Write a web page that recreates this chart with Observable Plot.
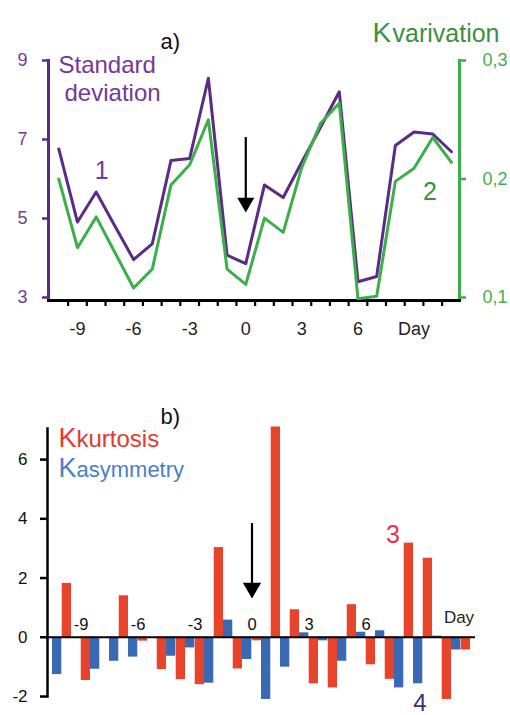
<!DOCTYPE html>
<html><head><meta charset="utf-8">
<script src="https://cdn.jsdelivr.net/npm/d3@7"></script>
<script src="https://cdn.jsdelivr.net/npm/@observablehq/plot@0.6"></script>
<style>
html,body{margin:0;padding:0;background:#fff;}
#chart{width:510px;height:715px;overflow:hidden;}
#chart svg{display:block;}
</style></head><body><div id="chart"></div>
<script>
// ---------- data ----------
const days = [-10,-9,-8,-7,-6,-5,-4,-3,-2,-1,0,1,2,3,4,5,6,7,8,9,10,11];
// panel a
const stdDev = [6.76,4.91,5.67,4.81,3.96,4.36,6.47,6.52,8.55,4.07,3.86,5.85,5.53,6.43,7.31,8.21,3.40,3.53,6.85,7.19,7.14,6.69];
const kVar   = [0.200,0.142,0.168,0.138,0.108,0.124,0.195,0.212,0.250,0.124,0.111,0.167,0.155,0.210,0.247,0.264,0.099,0.101,0.198,0.209,0.235,0.214];
// panel b
const asymmetry = [-1.26,0,-1.08,-0.81,-0.67,0,-0.64,-0.36,-1.55,0.58,-0.75,-2.10,-1.01,0.15,-0.12,-0.81,0.17,0.22,-1.71,-1.57,0.04,-0.43];
const kurtosis  = [1.82,-1.46,0,1.40,-0.13,-1.09,-1.43,-1.60,3.03,-1.07,-0.12,7.10,0.93,-1.57,-1.71,1.10,-0.93,-1.42,3.18,2.67,-2.10,-0.43];
// ticks / labels
const stdTicks = [3,5,7,9];
const kvarTicks = [0.1,0.2,0.3];
const aTickDays = [-9,-6,-3,0,3,6,9];
const aTickLabels = ["-9","-6","-3","0","3","6","Day"];
const bTickDays = [-9,-6,-3,0,3,6];
const bTickLabels = ["-9","-6","-3","0","3","6"];
const bDayLabel = [{day:11, label:"Day"}];
const bYTicks = [-2,0,2,4,6];
const arrowA = [{day:0, top:7.05, tip:5.15}];
const arrowB = [{day:0, top:3.84, tip:1.31}];
const labelsA = [{label:"1", day:-7.7, value:6.0}, {label:"2", day:9.85, value:5.48}];
const labelsB = [{label:"3", day:8, value:3.17}, {label:"4", day:9, value:-2.5}];

// ---------- style ----------
const FONT = "'Liberation Sans', Arial, sans-serif";
const PURPLE = "#5b2b85", PURPLE_TXT = "#74399a";
const GREEN = "#3cae4a", GREEN_TXT = "#47ad50", GREEN_DARK = "#3d8f42";
const RED = "#e8432b", RED_TXT = "#e23a30", PINK = "#e4344f";
const BLUE = "#3a69b3", BLUE_TXT = "#4a80c2", INDIGO = "#3b2f80";

const toStd = k => 3 + (k - 0.1) * 30;
const fromStd = v => (v - 3) / 30 + 0.1;
const halfDays = days.slice(0, -1).map(d => d + 0.5);

const rowsA = days.map((d, i) => ({day: d, std: stdDev[i], kvar: kVar[i]}));
const rowsB = days.map((d, i) => ({day: d, asym: asymmetry[i], kurt: kurtosis[i]}));

// ---------- panel a ----------
const plotA = Plot.plot({
  width: 510, height: 340,
  marginLeft: 48, marginRight: 51, marginTop: 60, marginBottom: 40,
  x: {domain: [-10.55, 11.43], axis: null},
  y: {domain: [2.924, 9], axis: null},
  style: {fontFamily: FONT, background: "white", overflow: "visible"},
  marks: [
    Plot.frame({anchor: "left", stroke: PURPLE, strokeWidth: 3}),
    Plot.frame({anchor: "right", stroke: GREEN, strokeWidth: 3}),
    Plot.axisY({anchor: "left", ticks: stdTicks, tickSize: 6, tickPadding: 15, tickFormat: d => String(d),
      stroke: PURPLE, fill: PURPLE_TXT, fontSize: 18, strokeWidth: 2.5, label: null}),
    Plot.axisY({anchor: "right", ticks: kvarTicks.map(toStd), tickSize: 6, tickPadding: 17,
      tickFormat: v => d3.format(".1f")(fromStd(v)).replace(".", ","),
      stroke: GREEN, fill: GREEN_TXT, fontSize: 18, strokeWidth: 2.5, label: null}),
    Plot.axisX({anchor: "bottom", ticks: halfDays, tickSize: 6, tickFormat: () => "", stroke: "black", strokeWidth: 2.2, label: null}),
    Plot.axisX({anchor: "bottom", ticks: aTickDays, tickSize: 0, tickPadding: 22,
      tickFormat: d => aTickLabels[aTickDays.indexOf(d)], fontSize: 18, fill: "#222", label: null}),
    Plot.frame({anchor: "bottom", stroke: "black", strokeWidth: 3}),
    Plot.line(rowsA, {x: "day", y: "std", stroke: PURPLE, strokeWidth: 3}),
    Plot.line(rowsA, {x: "day", y: d => toStd(d.kvar), stroke: GREEN, strokeWidth: 3}),
    // arrow
    Plot.ruleX(arrowA, {x: "day", y1: "top", y2: "tip", stroke: "black", strokeWidth: 2.2, insetBottom: 9}),
    Plot.dot(arrowA, {x: "day", y: "tip", symbol: "triangle", rotate: 180, r: 6.3, fill: "black", stroke: null, dy: -9.8}),
    // texts
    Plot.text(["a)"], {text: d => d, frameAnchor: "top-left", dx: 112, dy: -12, textAnchor: "start", lineAnchor: "bottom", fontSize: 22, fill: "#111"}),
    Plot.text(["Standard"], {text: d => d, frameAnchor: "top-left", dx: 10, dy: 12, textAnchor: "start", lineAnchor: "bottom", fontSize: 24, fill: PURPLE_TXT}),
    Plot.text(["deviation"], {text: d => d, frameAnchor: "top-left", dx: 16, dy: 40, textAnchor: "start", lineAnchor: "bottom", fontSize: 24, fill: PURPLE_TXT}),
    Plot.text(["K"], {text: d => d, frameAnchor: "top-right", dx: -87, dy: -19, textAnchor: "start", lineAnchor: "bottom", fontSize: 28, fill: GREEN_DARK}),
    Plot.text(["varivation"], {text: d => d, frameAnchor: "top-right", dx: 40, dy: -19, textAnchor: "end", lineAnchor: "bottom", fontSize: 25, fill: GREEN_DARK}),
    Plot.text(labelsA.slice(0, 1), {x: "day", y: "value", text: "label", lineAnchor: "bottom", fontSize: 25, fill: PURPLE_TXT}),
    Plot.text(labelsA.slice(1), {x: "day", y: "value", text: "label", lineAnchor: "bottom", fontSize: 25, fill: GREEN_DARK})
  ]
});

// ---------- panel b ----------
const innerB = 510 - 47 - 35;
const halfBand = innerB / days.length / 2;
const plotB = Plot.plot({
  width: 510, height: 375,
  marginLeft: 47, marginRight: 35, marginTop: 88, marginBottom: 19,
  x: {type: "band", domain: days, padding: 0, axis: null},
  y: {domain: [-2, 7.05], axis: null},
  style: {fontFamily: FONT, background: "white", overflow: "visible"},
  marks: [
    Plot.barY(rowsB, {x: "day", y: "asym", fill: BLUE, insetRight: halfBand}),
    Plot.barY(rowsB, {x: "day", y: "kurt", fill: RED, insetLeft: halfBand}),
    Plot.ruleY([0], {stroke: "black", strokeWidth: 2}),
    Plot.frame({anchor: "left", stroke: "black", strokeWidth: 2.5}),
    Plot.axisY({anchor: "left", ticks: bYTicks, tickSize: 7, tickPadding: 13, tickFormat: d => String(d),
      fontSize: 17, strokeWidth: 2.5, stroke: "black", fill: "#111", label: null}),
    Plot.text(bTickDays.map((d, i) => ({day: d, label: bTickLabels[i]})), {x: "day", y: () => 0, text: "label",
      lineAnchor: "bottom", dy: -7, fontSize: 16.5, fill: "#111"}),
    Plot.text(bDayLabel, {x: "day", y: () => 0, text: "label", lineAnchor: "bottom", dy: -14, dx: -2, fontSize: 17, fill: "#222"}),
    // arrow
    Plot.ruleX(arrowB, {x: "day", y1: "top", y2: "tip", stroke: "black", strokeWidth: 2.2, insetBottom: 9}),
    Plot.dot(arrowB, {x: "day", y: "tip", symbol: "triangle", rotate: 180, r: 6.8, fill: "black", stroke: null, dy: -10.5}),
    // texts
    Plot.text(["b)"], {text: d => d, frameAnchor: "top-left", dx: 113, dy: -5, textAnchor: "start", lineAnchor: "bottom", fontSize: 22, fill: "#111"}),
    Plot.text(["K"], {text: d => d, frameAnchor: "top-left", dx: 11, dy: 18, textAnchor: "start", lineAnchor: "bottom", fontSize: 27, fill: RED_TXT}),
    Plot.text(["kurtosis"], {text: d => d, frameAnchor: "top-left", dx: 29, dy: 18, textAnchor: "start", lineAnchor: "bottom", fontSize: 24, fill: RED_TXT}),
    Plot.text(["K"], {text: d => d, frameAnchor: "top-left", dx: 11, dy: 48, textAnchor: "start", lineAnchor: "bottom", fontSize: 27, fill: BLUE_TXT}),
    Plot.text(["asymmetry"], {text: d => d, frameAnchor: "top-left", dx: 29, dy: 48, textAnchor: "start", lineAnchor: "bottom", fontSize: 22, fill: BLUE_TXT}),
    Plot.text(labelsB.slice(0, 1), {x: "day", y: "value", text: "label", lineAnchor: "bottom", dx: -11, fontSize: 25, fill: PINK}),
    Plot.text(labelsB.slice(1), {x: "day", y: "value", text: "label", lineAnchor: "bottom", dx: -3, fontSize: 24, fill: INDIGO})
  ]
});

const root = document.getElementById("chart");
root.appendChild(plotA);
root.appendChild(plotB);
</script></body></html>
